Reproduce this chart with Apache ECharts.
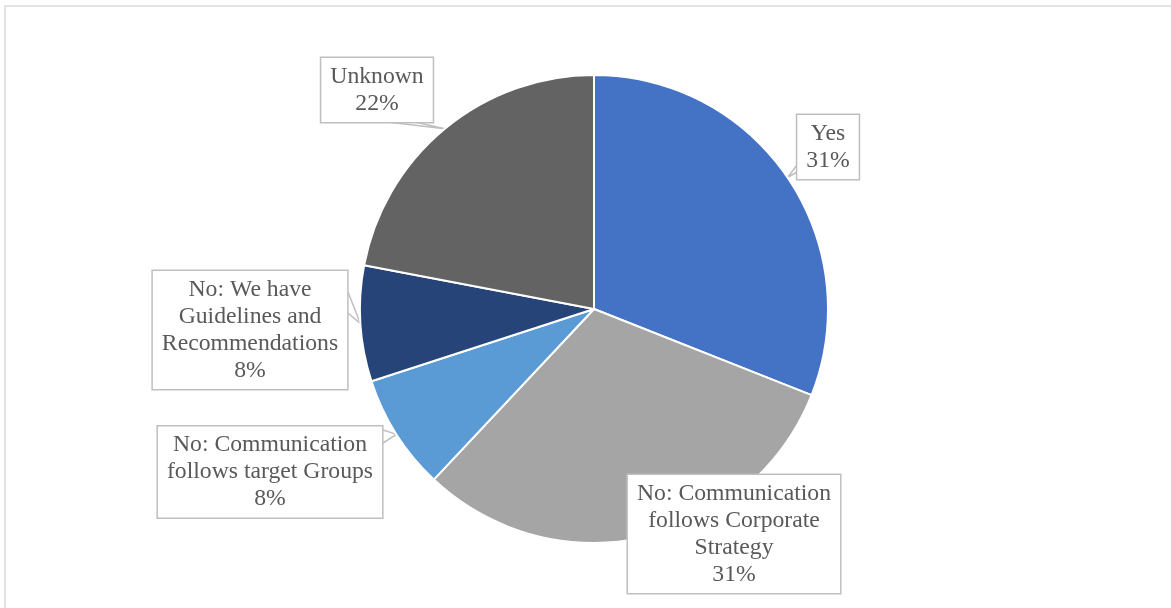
<!DOCTYPE html>
<html>
<head>
<meta charset="utf-8">
<title>Communication strategy</title>
<script src="https://cdn.jsdelivr.net/npm/echarts@6/dist/echarts.min.js"></script>
<style>
  html, body { margin: 0; padding: 0; background: #ffffff; }
  #chart { width: 1171px; height: 608px; }
</style>
</head>
<body>
<div id="chart"></div>
<script>
// Answer categories (line breaks as shown in the callouts)
const categories = [
  'Yes',
  'No: Communication\nfollows Corporate\nStrategy',
  'No: Communication\nfollows target Groups',
  'No: We have\nGuidelines and\nRecommendations',
  'Unknown'
];
// Share of responses, percent
const shares = [31, 31, 8, 8, 22];
const sliceColors = ['#4472C4', '#A5A5A5', '#5B9BD5', '#264478', '#636363'];

// Callout centres (pixels) for each slice label
const calloutCenters = [
  [828, 147],
  [734, 534],
  [270, 472],
  [250, 330],
  [377, 90]
];
// Where each callout's pointer leaves its box, as offsets from the centre
const pointerBases = [
  [[-31, 18], [-31, 25]],
  [[0, 0], [0, 0]],
  [[113, -42], [113, -29]],
  [[98, -38], [98, -17]],
  [[10, 32], [38, 32]]
];

const chart = echarts.init(document.getElementById('chart'), null, { renderer: 'canvas' });

chart.setOption({
  backgroundColor: '#ffffff',
  animation: false,
  graphic: [{
    type: 'rect',
    silent: true,
    shape: { x: 5, y: 6, width: 1200, height: 700 },
    style: { fill: 'none', stroke: '#d9d9d9', lineWidth: 1.5 }
  }],
  series: [{
    type: 'pie',
    center: [594, 309],
    radius: 234,
    startAngle: 90,
    clockwise: true,
    avoidLabelOverlap: false,
    itemStyle: { borderColor: '#ffffff', borderWidth: 2 },
    label: {
      show: true,
      position: 'outside',
      formatter: p => p.name + '\n' + p.value + '%',
      fontFamily: 'Liberation Serif',
      fontSize: 23.7,
      lineHeight: 27,
      color: '#595959',
      align: 'center',
      backgroundColor: '#ffffff',
      borderColor: '#bfbfbf',
      borderWidth: 1.5,
      padding: [5, 9, 5, 9]
    },
    labelLine: {
      show: true,
      length: 5,
      length2: 5,
      lineStyle: { color: '#bfbfbf', width: 1.5 }
    },
    labelLayout: params => {
      const i = params.dataIndex;
      const c = calloutCenters[i];
      const tip = params.labelLinePoints ? params.labelLinePoints[0] : c;
      const b = pointerBases[i];
      return {
        x: c[0],
        y: c[1],
        align: 'center',
        verticalAlign: 'middle',
        labelLinePoints: [
          [c[0] + b[0][0], c[1] + b[0][1]],
          [tip[0], tip[1]],
          [c[0] + b[1][0], c[1] + b[1][1]]
        ]
      };
    },
    data: categories.map((name, i) => ({
      name: name,
      value: shares[i],
      itemStyle: { color: sliceColors[i] }
    }))
  }]
});
</script>
</body>
</html>
